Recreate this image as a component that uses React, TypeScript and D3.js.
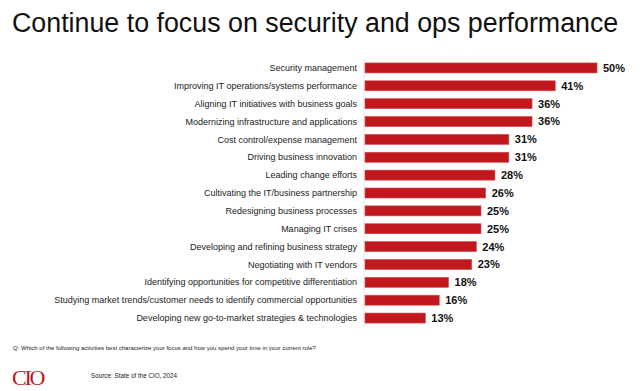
import React from "react";
import * as d3 from "d3";

const categories = [
  "Security management",
  "Improving IT operations/systems performance",
  "Aligning IT initiatives with business goals",
  "Modernizing infrastructure and applications",
  "Cost control/expense management",
  "Driving business innovation",
  "Leading change efforts",
  "Cultivating the IT/business partnership",
  "Redesigning business processes",
  "Managing IT crises",
  "Developing and refining business strategy",
  "Negotiating with IT vendors",
  "Identifying opportunities for competitive differentiation",
  "Studying market trends/customer needs to identify commercial opportunities",
  "Developing new go-to-market strategies & technologies",
];
const values = [50, 41, 36, 36, 31, 31, 28, 26, 25, 25, 24, 23, 18, 16, 13];

export default function App() {
  const W = 644, H = 391;
  const x0 = 365;
  const x = d3.scaleLinear().domain([0, 50]).range([x0, 597]);
  const y = d3.scaleBand<string>().domain(categories).range([59, 327]).paddingInner(0.44).paddingOuter(0.22);
  const font = "Liberation Sans, Arial, sans-serif";
  return (
    <svg width={W} height={H} style={{ position: "absolute", left: 0, top: 0, background: "#fff" }} fontFamily={font}>
      <text x={12} y={32} fontSize={26.8} fill="#111">Continue to focus on security and ops performance</text>
      <line x1={x0 - 1} x2={x0 - 1} y1={59} y2={327} stroke="#e4e4e4" strokeWidth={1} />
      {categories.map((c, i) => {
        const yy = y(c)!;
        const bw = y.bandwidth();
        return (
          <g key={c}>
            <text x={357} y={yy + bw / 2} dy="0.35em" textAnchor="end" fontSize={9} fill="#222">{c}</text>
            <rect x={x0} y={yy} width={x(values[i]) - x0} height={bw} fill="#c1181e" stroke="#d24a4e" strokeWidth={0.6} />
            <text x={x(values[i]) + 6} y={yy + bw / 2} dy="0.36em" fontSize={11} fontWeight="bold" fill="#111">{values[i]}%</text>
          </g>
        );
      })}
      <text x={13} y={350} fontSize={6} fill="#222">Q: Which of the following activities best characterize your focus and how you spend your time in your current role?</text>
      <text x={12} y={385} fontSize={22} fill="#b11c24" fontFamily="Liberation Serif, Times New Roman, serif" letterSpacing={-2.2}>CIO</text>
      <text x={91} y={378} fontSize={6.3} fill="#222">Source: State of the CIO, 2024</text>
    </svg>
  );
}
